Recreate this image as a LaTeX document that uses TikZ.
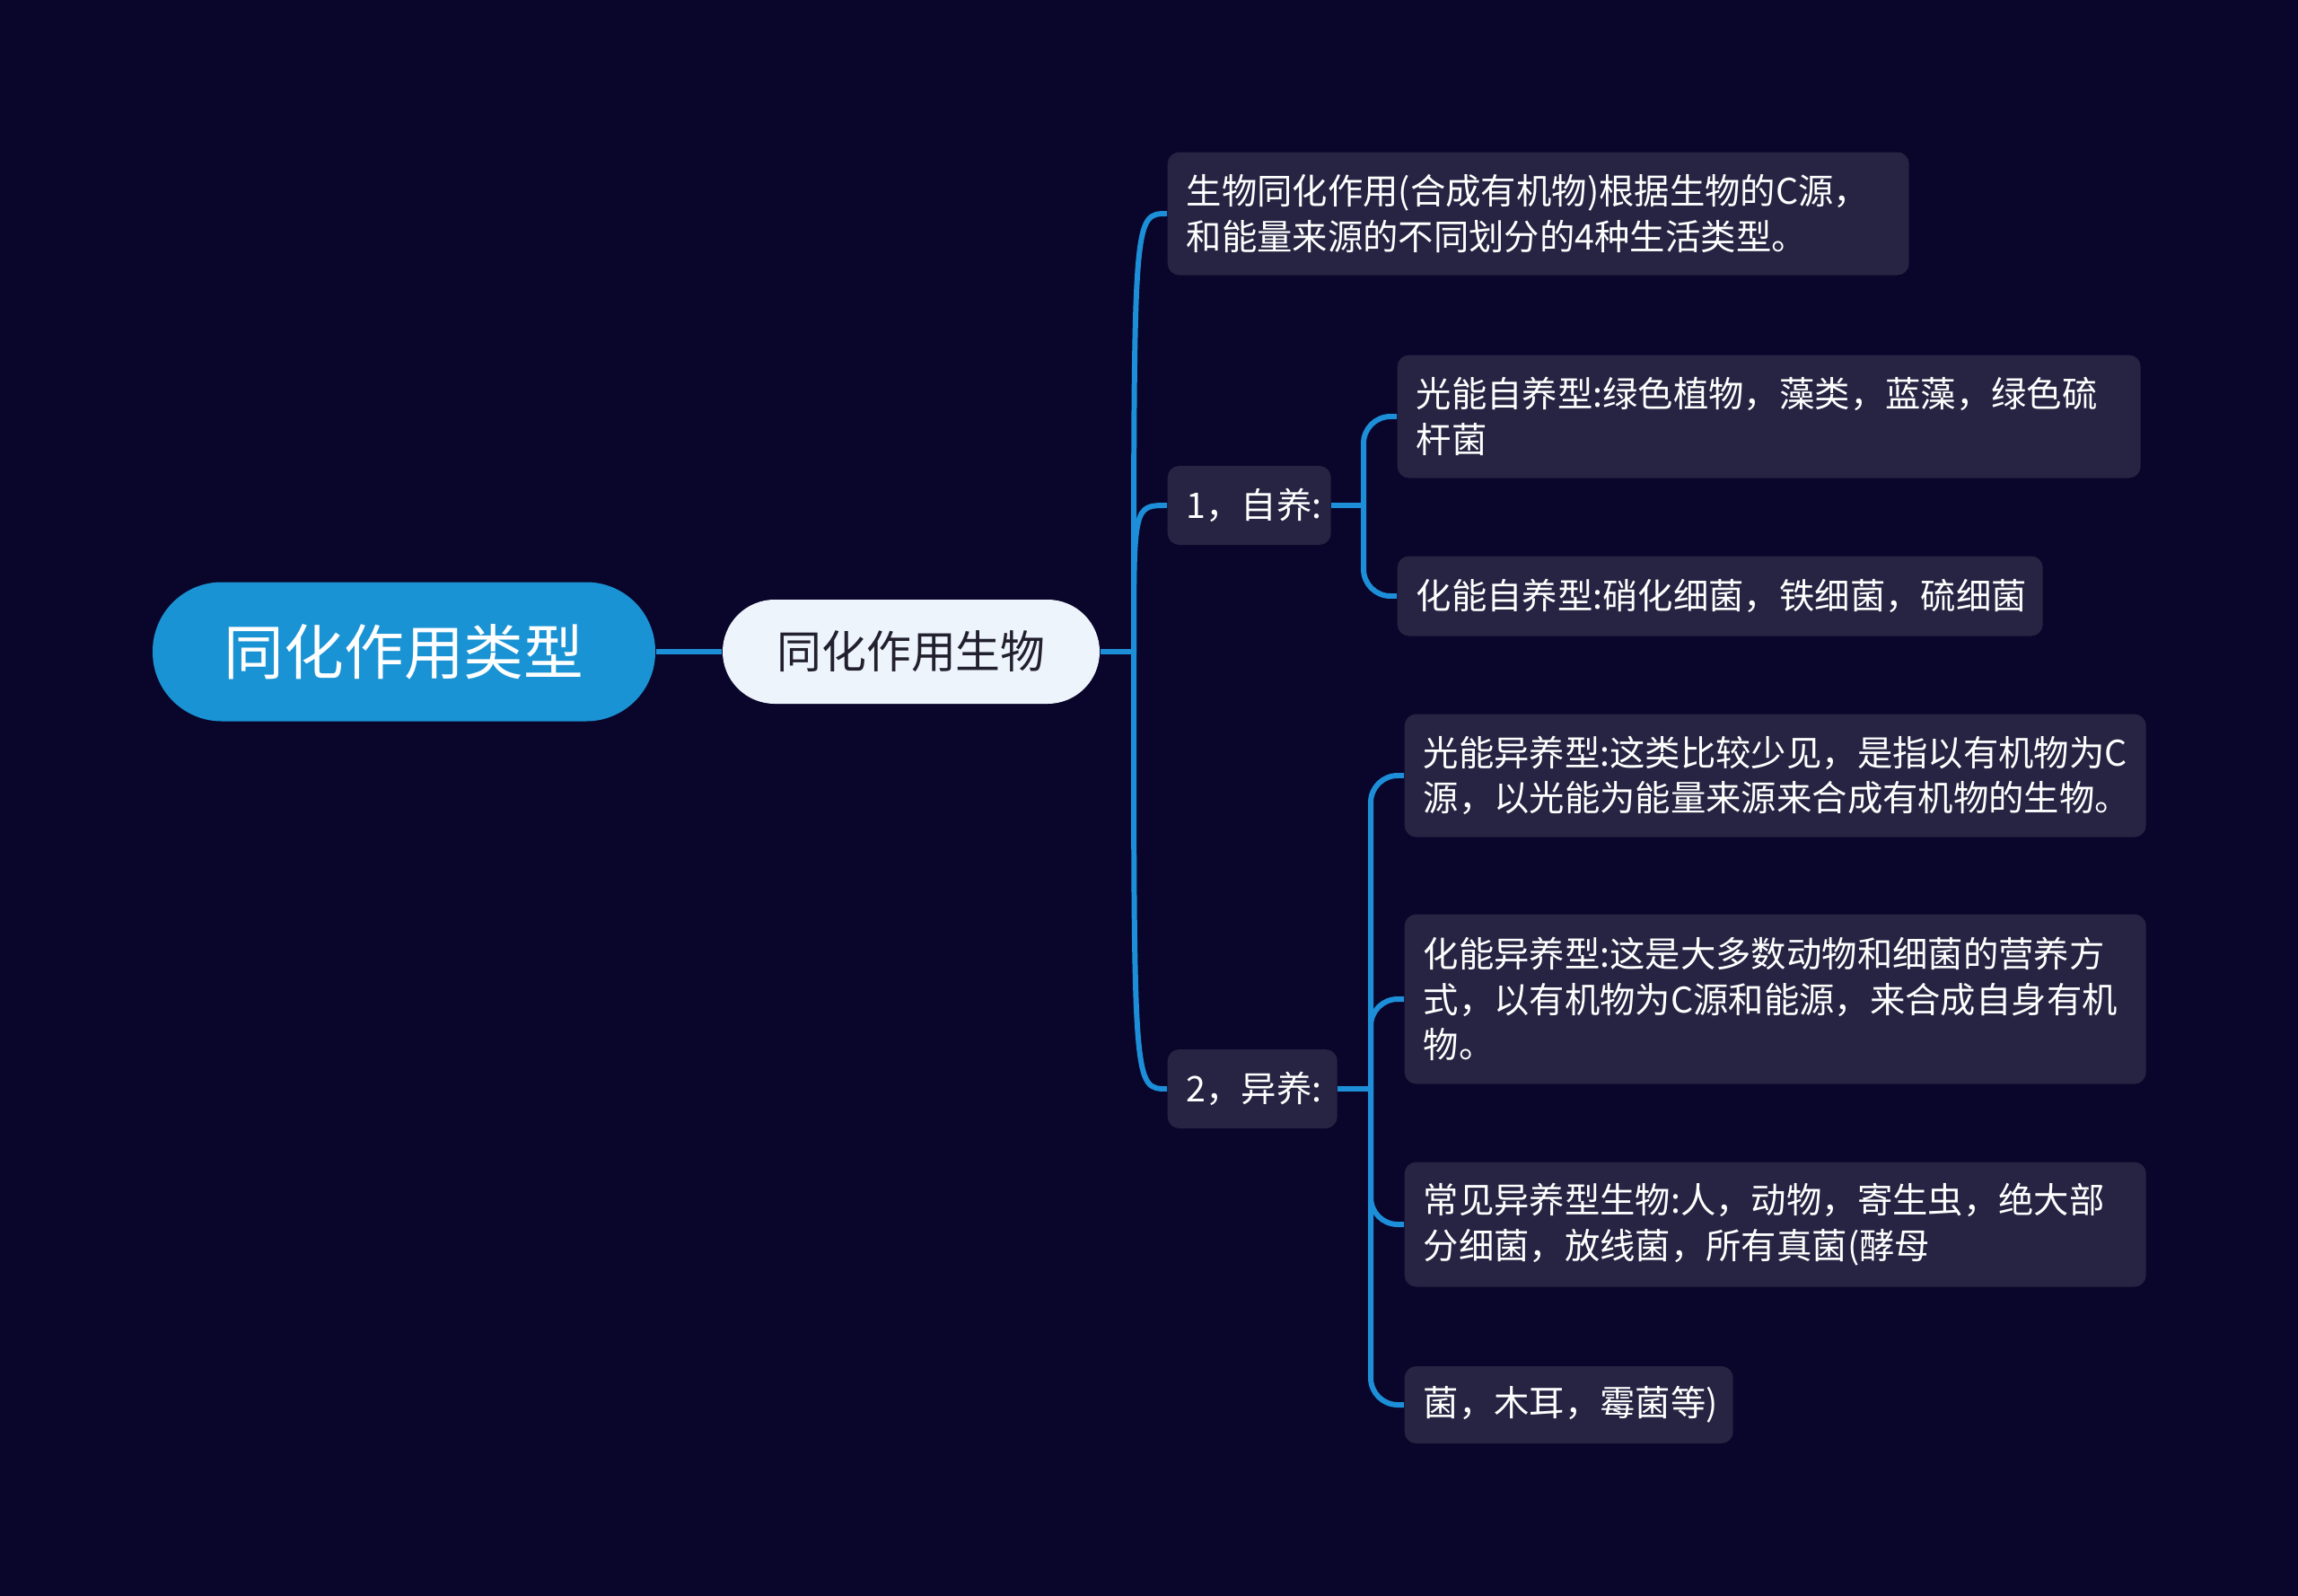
\documentclass[tikz,border=0pt]{standalone}
\usepackage{fontspec}
\setmainfont{Noto Sans CJK SC}
\definecolor{bgc}{HTML}{0A062B}
\definecolor{boxc}{HTML}{262442}
\definecolor{rootc}{HTML}{1A93D4}
\definecolor{linec}{HTML}{1C8FD8}
\definecolor{lightc}{HTML}{EEF4FC}
\definecolor{darktext}{HTML}{22202F}
\tikzset{
  leaf/.style={fill=boxc, text=white, rounded corners=0.13cm, inner xsep=0.21cm, inner ysep=0cm,
    align=left, anchor=west, font=\fontsize{11.2pt}{14.4pt}\selectfont},
  conn/.style={draw=linec, line width=1.7pt},
}
\begin{document}
\begin{tikzpicture}
\useasboundingbox (0,0) rectangle (25.6,-17.78);
\fill[bgc] (0,0) rectangle (25.6,-17.78);

\node[fill=rootc, text=white, rounded corners=0.77cm, minimum width=5.6cm, minimum height=1.55cm,
  font=\fontsize{19pt}{22pt}\selectfont] (root) at (4.50,-7.26) {同化作用类型};
\node[fill=lightc, text=darktext, rounded corners=0.58cm, minimum width=4.2cm, minimum height=1.16cm,
  font=\fontsize{14.2pt}{17pt}\selectfont] (n2) at (10.15,-7.26) {同化作用生物};

\node[leaf, text width=7.84cm, minimum height=1.37cm] (A) at (13.00,-2.38)
  {生物同化作用(合成有机物)根据生物的C源，\\和能量来源的不同划分的4种生活类型。};
\node[leaf, text width=1.40cm, minimum height=0.88cm] (B) at (13.00,-5.63) {1，自养:};
\node[leaf, text width=1.47cm, minimum height=0.88cm] (C) at (13.00,-12.13) {2，异养:};

\node[leaf, text width=7.86cm, minimum height=1.37cm] (B1) at (15.56,-4.64)
  {光能自养型:绿色植物，藻类，蓝藻，绿色硫\\杆菌};
\node[leaf, text width=6.77cm, minimum height=0.89cm] (B2) at (15.56,-6.64)
  {化能自养型:硝化细菌，铁细菌，硫细菌};

\node[leaf, text width=7.84cm, minimum height=1.37cm] (C1) at (15.64,-8.64)
  {光能异养型:这类比较少见，是指以有机物为C\\源，以光能为能量来源来合成有机物的生物。};
\node[leaf, text width=7.84cm, minimum height=1.89cm] (C2) at (15.64,-11.13)
  {化能异养型:这是大多数动物和细菌的营养方\\式，以有机物为C源和能源，来合成自身有机\\物。};
\node[leaf, text width=7.84cm, minimum height=1.39cm] (C3) at (15.64,-13.64)
  {常见异养型生物:人，动物，寄生虫，绝大部\\分细菌，放线菌，所有真菌(酵母};
\node[leaf, text width=3.24cm, minimum height=0.86cm] (C4) at (15.64,-15.65)
  {菌，木耳，霉菌等)};

% connectors
\draw[conn] (root.east) -- (n2.west);
\coordinate (s0) at (12.63,-7.26);
\draw[conn] (n2.east) -- (s0);
\foreach \t in {A,B,C}{
  \draw[conn] (s0) .. controls (s0 |- \t.west) and (s0 |- \t.west) .. (\t.west);
}
\coordinate (sB) at (15.19,-5.63);
\draw[conn] (B.east) -- (sB);
\foreach \t in {B1,B2}{
  \draw[conn, rounded corners=0.3cm] (sB) |- (\t.west);
}
\coordinate (sC) at (15.27,-12.13);
\draw[conn] (C.east) -- (sC);
\foreach \t in {C1,C2,C3,C4}{
  \draw[conn, rounded corners=0.3cm] (sC) |- (\t.west);
}
\end{tikzpicture}
\end{document}
